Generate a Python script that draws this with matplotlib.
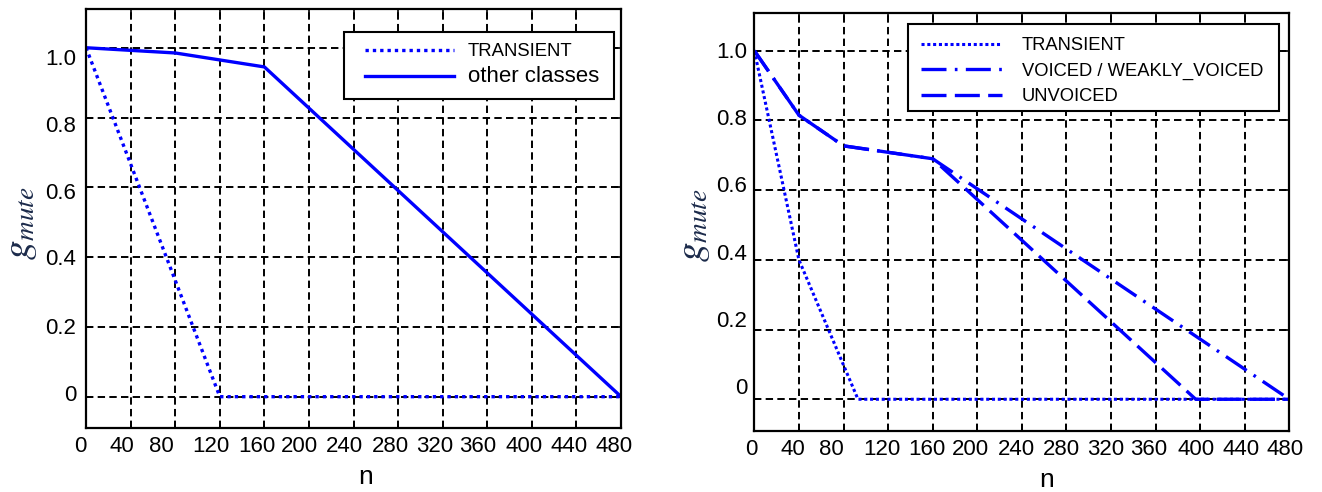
import matplotlib
matplotlib.use('Agg')
import matplotlib.pyplot as plt
import matplotlib.transforms as mtransforms
from matplotlib.patches import Rectangle

# ---------------- data ----------------
n_ticks = [0, 40, 80, 120, 160, 200, 240, 280, 320, 360, 400, 440, 480]
g_ticks = [0.0, 0.2, 0.4, 0.6, 0.8, 1.0]
g_tick_labels = ['0', '0.2', '0.4', '0.6', '0.8', '1.0']

left_transient_n = [0, 120, 480]
left_transient_g = [1.0, 0.0, 0.0]
left_other_n = [0, 80, 160, 480]
left_other_g = [1.0, 0.985, 0.945, 0.0]
left_labels = ['TRANSIENT', 'other classes']

right_transient_n = [0, 40, 93, 480]
right_transient_g = [1.0, 0.40, 0.0, 0.0]
right_voiced_n = [0, 40, 80, 160, 480]
right_voiced_g = [1.0, 0.815, 0.727, 0.69, 0.0]
right_unvoiced_n = [0, 40, 80, 160, 396, 480]
right_unvoiced_g = [1.0, 0.815, 0.727, 0.69, 0.0, 0.0]
right_labels = ['TRANSIENT', 'VOICED / WEAKLY_VOICED', 'UNVOICED']

# ---------------- style ----------------
plt.rcParams['font.family'] = ['Liberation Sans', 'DejaVu Sans']
plt.rcParams['mathtext.fontset'] = 'stix'
BLUE = '#0000ff'

fig = plt.figure(figsize=(13.22, 4.92), dpi=100)
ax1 = fig.add_axes([0.0651, 0.1301, 0.4047, 0.8516])
ax2 = fig.add_axes([0.5706, 0.1240, 0.4047, 0.8502])

# label offsets (pixels) mimicking the scanned layout
x_off_left = [-6, -9, -14, -9, -8, -10, -9, -8, -8, -10, -8, -7, -7]
x_off_right = [-3, -6, -12, -6, -6, -7, -5, -5, -5, -7, -4, -4, -4]
y_off_left = [4, 0.7, 0, -4, -6, -9]
y_off_right = [13, 11, 8, 6, 3, 0.7]


def style_axes(ax, ylim, ypad, xoffs, yoffs):
    ax.set_xlim(0, 480)
    ax.set_ylim(*ylim)
    ax.set_xticks(n_ticks)
    ax.set_xticklabels([str(v) for v in n_ticks])
    ax.set_yticks(g_ticks)
    ax.set_yticklabels(g_tick_labels)
    ax.tick_params(axis='both', direction='in', top=True, right=True,
                   length=5, width=1.2, labelsize=16, colors='black')
    ax.tick_params(axis='x', pad=6)
    ax.tick_params(axis='y', pad=ypad)
    ax.grid(True, color='black', linestyle=(0, (3.8, 2.2)), linewidth=1.4)
    for sp in ax.spines.values():
        sp.set_linewidth(1.6)
        sp.set_color('black')
    for lab, dx in zip(ax.get_xticklabels(), xoffs):
        lab.set_transform(lab.get_transform() +
                          mtransforms.ScaledTranslation(dx / 100, 0, fig.dpi_scale_trans))
    for lab, dy in zip(ax.get_yticklabels(), yoffs):
        lab.set_transform(lab.get_transform() +
                          mtransforms.ScaledTranslation(0, dy / 100, fig.dpi_scale_trans))


style_axes(ax1, (-0.0897, 1.111), 7, x_off_left, y_off_left)
style_axes(ax2, (-0.091, 1.109), 5, x_off_right, y_off_right)

# ---------------- left panel ----------------
l1, = ax1.plot(left_transient_n, left_transient_g, color=BLUE, linewidth=2.4,
               linestyle=(0, (1, 1.2)))
l2, = ax1.plot(left_other_n, left_other_g, color=BLUE, linewidth=2.4)

ax1.add_patch(Rectangle((0.482, 0.785), 0.505, 0.16, transform=ax1.transAxes,
                        facecolor='white', edgecolor='black', linewidth=1.5, zorder=4))
leg1 = ax1.legend([l1, l2], left_labels, loc='upper left',
                  bbox_to_anchor=(0.5215, 0.918), borderaxespad=0, borderpad=0,
                  frameon=False, fontsize=13.3, handlelength=4.8,
                  handletextpad=0.75, labelspacing=0.32)
leg1.set_zorder(5)
leg1.get_texts()[1].set_fontsize(16)

ax1.set_xlabel('n', fontsize=19, va='baseline')
ax1.xaxis.set_label_coords(0.523, -0.133)
ax1.set_ylabel('$g_{mute}$', fontsize=28, color='#1b2a4a', va='center', ha='center')
ax1.yaxis.set_label_coords(-0.122, 0.489)

# ---------------- right panel ----------------
r1, = ax2.plot(right_transient_n, right_transient_g, color=BLUE, linewidth=2.2,
               linestyle=(0, (1, 0.9)))
r2, = ax2.plot(right_voiced_n, right_voiced_g, color=BLUE, linewidth=2.4,
               linestyle=(0, (7.5, 2.5, 0.8, 2.5)))
r3, = ax2.plot(right_unvoiced_n, right_unvoiced_g, color=BLUE, linewidth=2.4,
               linestyle=(0, (7.5, 2.5)))

ax2.add_patch(Rectangle((0.2867, 0.766), 0.6933, 0.207, transform=ax2.transAxes,
                        facecolor='white', edgecolor='black', linewidth=1.5, zorder=4))
leg2 = ax2.legend([r1, r2, r3], right_labels, loc='upper left',
                  bbox_to_anchor=(0.311, 0.941), borderaxespad=0, borderpad=0,
                  frameon=False, fontsize=13.25, handlelength=4.4,
                  handletextpad=1.1, labelspacing=0.46)
leg2.set_zorder(5)

ax2.set_xlabel('n', fontsize=19, va='baseline')
ax2.xaxis.set_label_coords(0.547, -0.134)
ax2.set_ylabel('$g_{mute}$', fontsize=28, color='#1b2a4a', va='center', ha='center')
ax2.yaxis.set_label_coords(-0.112, 0.492)

fig.savefig('out.png', dpi=100)
